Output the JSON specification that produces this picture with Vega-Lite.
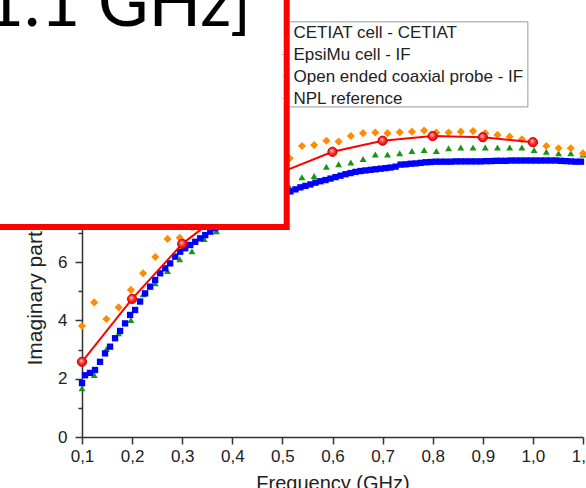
{
  "$schema": "https://vega.github.io/schema/vega-lite/v6.json",
  "autosize": {"type": "none"},
  "padding": {"left": 82, "top": 0, "right": 3, "bottom": 51},
  "width": 501,
  "height": 437,
  "background": "white",
  "config": {"view": {"stroke": null}, "font": "Liberation Sans"},
  "datasets": {
    "cetiat": [
      {"series": "CETIAT cell - CETIAT", "f": 0.1, "v": 3.81},
      {"series": "CETIAT cell - CETIAT", "f": 0.1244, "v": 4.62},
      {"series": "CETIAT cell - CETIAT", "f": 0.1488, "v": 4.05},
      {"series": "CETIAT cell - CETIAT", "f": 0.1732, "v": 4.45},
      {"series": "CETIAT cell - CETIAT", "f": 0.1976, "v": 5.05},
      {"series": "CETIAT cell - CETIAT", "f": 0.222, "v": 5.62},
      {"series": "CETIAT cell - CETIAT", "f": 0.2463, "v": 6.18},
      {"series": "CETIAT cell - CETIAT", "f": 0.2707, "v": 6.8},
      {"series": "CETIAT cell - CETIAT", "f": 0.2951, "v": 6.84},
      {"series": "CETIAT cell - CETIAT", "f": 0.3195, "v": 7.2},
      {"series": "CETIAT cell - CETIAT", "f": 0.3439, "v": 7.6},
      {"series": "CETIAT cell - CETIAT", "f": 0.3683, "v": 8.0},
      {"series": "CETIAT cell - CETIAT", "f": 0.3927, "v": 8.3},
      {"series": "CETIAT cell - CETIAT", "f": 0.4171, "v": 8.6},
      {"series": "CETIAT cell - CETIAT", "f": 0.4415, "v": 8.9},
      {"series": "CETIAT cell - CETIAT", "f": 0.4659, "v": 9.15},
      {"series": "CETIAT cell - CETIAT", "f": 0.4902, "v": 9.4},
      {"series": "CETIAT cell - CETIAT", "f": 0.5146, "v": 9.57},
      {"series": "CETIAT cell - CETIAT", "f": 0.539, "v": 9.99},
      {"series": "CETIAT cell - CETIAT", "f": 0.5634, "v": 10.02},
      {"series": "CETIAT cell - CETIAT", "f": 0.5878, "v": 10.17},
      {"series": "CETIAT cell - CETIAT", "f": 0.6122, "v": 10.14},
      {"series": "CETIAT cell - CETIAT", "f": 0.6366, "v": 10.33},
      {"series": "CETIAT cell - CETIAT", "f": 0.661, "v": 10.43},
      {"series": "CETIAT cell - CETIAT", "f": 0.6854, "v": 10.45},
      {"series": "CETIAT cell - CETIAT", "f": 0.7098, "v": 10.43},
      {"series": "CETIAT cell - CETIAT", "f": 0.7341, "v": 10.46},
      {"series": "CETIAT cell - CETIAT", "f": 0.7585, "v": 10.48},
      {"series": "CETIAT cell - CETIAT", "f": 0.7829, "v": 10.52},
      {"series": "CETIAT cell - CETIAT", "f": 0.8073, "v": 10.45},
      {"series": "CETIAT cell - CETIAT", "f": 0.8317, "v": 10.45},
      {"series": "CETIAT cell - CETIAT", "f": 0.8561, "v": 10.48},
      {"series": "CETIAT cell - CETIAT", "f": 0.8805, "v": 10.5},
      {"series": "CETIAT cell - CETIAT", "f": 0.9049, "v": 10.43},
      {"series": "CETIAT cell - CETIAT", "f": 0.9293, "v": 10.37},
      {"series": "CETIAT cell - CETIAT", "f": 0.9537, "v": 10.31},
      {"series": "CETIAT cell - CETIAT", "f": 0.978, "v": 10.22},
      {"series": "CETIAT cell - CETIAT", "f": 1.0024, "v": 10.08},
      {"series": "CETIAT cell - CETIAT", "f": 1.0268, "v": 9.99},
      {"series": "CETIAT cell - CETIAT", "f": 1.0512, "v": 9.91},
      {"series": "CETIAT cell - CETIAT", "f": 1.0756, "v": 9.91},
      {"series": "CETIAT cell - CETIAT", "f": 1.1, "v": 9.74}
    ],
    "probe": [
      {"series": "Open ended coaxial probe - IF", "f": 0.1, "v": 1.67},
      {"series": "Open ended coaxial probe - IF", "f": 0.1244, "v": 2.13},
      {"series": "Open ended coaxial probe - IF", "f": 0.1488, "v": 3.02},
      {"series": "Open ended coaxial probe - IF", "f": 0.1732, "v": 3.56},
      {"series": "Open ended coaxial probe - IF", "f": 0.1976, "v": 4.02},
      {"series": "Open ended coaxial probe - IF", "f": 0.222, "v": 4.9},
      {"series": "Open ended coaxial probe - IF", "f": 0.2463, "v": 5.28},
      {"series": "Open ended coaxial probe - IF", "f": 0.2707, "v": 5.7},
      {"series": "Open ended coaxial probe - IF", "f": 0.2951, "v": 6.1},
      {"series": "Open ended coaxial probe - IF", "f": 0.3195, "v": 6.38},
      {"series": "Open ended coaxial probe - IF", "f": 0.3439, "v": 6.8},
      {"series": "Open ended coaxial probe - IF", "f": 0.3683, "v": 7.06},
      {"series": "Open ended coaxial probe - IF", "f": 0.3927, "v": 7.35},
      {"series": "Open ended coaxial probe - IF", "f": 0.4171, "v": 7.6},
      {"series": "Open ended coaxial probe - IF", "f": 0.4415, "v": 7.85},
      {"series": "Open ended coaxial probe - IF", "f": 0.4659, "v": 8.1},
      {"series": "Open ended coaxial probe - IF", "f": 0.4902, "v": 8.35},
      {"series": "Open ended coaxial probe - IF", "f": 0.5146, "v": 8.56},
      {"series": "Open ended coaxial probe - IF", "f": 0.539, "v": 8.92},
      {"series": "Open ended coaxial probe - IF", "f": 0.5634, "v": 8.96},
      {"series": "Open ended coaxial probe - IF", "f": 0.5878, "v": 9.28},
      {"series": "Open ended coaxial probe - IF", "f": 0.6122, "v": 9.36},
      {"series": "Open ended coaxial probe - IF", "f": 0.6366, "v": 9.42},
      {"series": "Open ended coaxial probe - IF", "f": 0.661, "v": 9.54},
      {"series": "Open ended coaxial probe - IF", "f": 0.6854, "v": 9.7},
      {"series": "Open ended coaxial probe - IF", "f": 0.7098, "v": 9.7},
      {"series": "Open ended coaxial probe - IF", "f": 0.7341, "v": 9.74},
      {"series": "Open ended coaxial probe - IF", "f": 0.7585, "v": 9.82},
      {"series": "Open ended coaxial probe - IF", "f": 0.7829, "v": 9.85},
      {"series": "Open ended coaxial probe - IF", "f": 0.8073, "v": 9.82},
      {"series": "Open ended coaxial probe - IF", "f": 0.8317, "v": 9.91},
      {"series": "Open ended coaxial probe - IF", "f": 0.8561, "v": 9.94},
      {"series": "Open ended coaxial probe - IF", "f": 0.8805, "v": 9.94},
      {"series": "Open ended coaxial probe - IF", "f": 0.9049, "v": 9.94},
      {"series": "Open ended coaxial probe - IF", "f": 0.9293, "v": 9.94},
      {"series": "Open ended coaxial probe - IF", "f": 0.9537, "v": 9.94},
      {"series": "Open ended coaxial probe - IF", "f": 0.978, "v": 9.94},
      {"series": "Open ended coaxial probe - IF", "f": 1.0024, "v": 9.85},
      {"series": "Open ended coaxial probe - IF", "f": 1.0268, "v": 9.79},
      {"series": "Open ended coaxial probe - IF", "f": 1.0512, "v": 9.74},
      {"series": "Open ended coaxial probe - IF", "f": 1.0756, "v": 9.74},
      {"series": "Open ended coaxial probe - IF", "f": 1.1, "v": 9.7}
    ],
    "epsimu": [
      {"series": "EpsiMu cell - IF", "f": 0.1, "v": 1.85},
      {"series": "EpsiMu cell - IF", "f": 0.106, "v": 2.12},
      {"series": "EpsiMu cell - IF", "f": 0.116, "v": 2.2},
      {"series": "EpsiMu cell - IF", "f": 0.126, "v": 2.3},
      {"series": "EpsiMu cell - IF", "f": 0.136, "v": 2.58},
      {"series": "EpsiMu cell - IF", "f": 0.146, "v": 2.87},
      {"series": "EpsiMu cell - IF", "f": 0.156, "v": 3.1},
      {"series": "EpsiMu cell - IF", "f": 0.166, "v": 3.39},
      {"series": "EpsiMu cell - IF", "f": 0.176, "v": 3.64},
      {"series": "EpsiMu cell - IF", "f": 0.186, "v": 3.9},
      {"series": "EpsiMu cell - IF", "f": 0.196, "v": 4.19},
      {"series": "EpsiMu cell - IF", "f": 0.206, "v": 4.36},
      {"series": "EpsiMu cell - IF", "f": 0.216, "v": 4.65},
      {"series": "EpsiMu cell - IF", "f": 0.226, "v": 4.93},
      {"series": "EpsiMu cell - IF", "f": 0.236, "v": 5.16},
      {"series": "EpsiMu cell - IF", "f": 0.246, "v": 5.39},
      {"series": "EpsiMu cell - IF", "f": 0.256, "v": 5.62},
      {"series": "EpsiMu cell - IF", "f": 0.266, "v": 5.79},
      {"series": "EpsiMu cell - IF", "f": 0.276, "v": 5.96},
      {"series": "EpsiMu cell - IF", "f": 0.286, "v": 6.19},
      {"series": "EpsiMu cell - IF", "f": 0.296, "v": 6.36},
      {"series": "EpsiMu cell - IF", "f": 0.306, "v": 6.48},
      {"series": "EpsiMu cell - IF", "f": 0.316, "v": 6.59},
      {"series": "EpsiMu cell - IF", "f": 0.326, "v": 6.7},
      {"series": "EpsiMu cell - IF", "f": 0.336, "v": 6.82},
      {"series": "EpsiMu cell - IF", "f": 0.346, "v": 6.93},
      {"series": "EpsiMu cell - IF", "f": 0.356, "v": 7.05},
      {"series": "EpsiMu cell - IF", "f": 0.366, "v": 7.17},
      {"series": "EpsiMu cell - IF", "f": 0.376, "v": 7.28},
      {"series": "EpsiMu cell - IF", "f": 0.386, "v": 7.4},
      {"series": "EpsiMu cell - IF", "f": 0.396, "v": 7.5},
      {"series": "EpsiMu cell - IF", "f": 0.406, "v": 7.6},
      {"series": "EpsiMu cell - IF", "f": 0.416, "v": 7.7},
      {"series": "EpsiMu cell - IF", "f": 0.426, "v": 7.79},
      {"series": "EpsiMu cell - IF", "f": 0.436, "v": 7.87},
      {"series": "EpsiMu cell - IF", "f": 0.446, "v": 7.95},
      {"series": "EpsiMu cell - IF", "f": 0.456, "v": 8.03},
      {"series": "EpsiMu cell - IF", "f": 0.466, "v": 8.1},
      {"series": "EpsiMu cell - IF", "f": 0.476, "v": 8.17},
      {"series": "EpsiMu cell - IF", "f": 0.486, "v": 8.24},
      {"series": "EpsiMu cell - IF", "f": 0.496, "v": 8.3},
      {"series": "EpsiMu cell - IF", "f": 0.506, "v": 8.37},
      {"series": "EpsiMu cell - IF", "f": 0.516, "v": 8.43},
      {"series": "EpsiMu cell - IF", "f": 0.526, "v": 8.5},
      {"series": "EpsiMu cell - IF", "f": 0.536, "v": 8.57},
      {"series": "EpsiMu cell - IF", "f": 0.546, "v": 8.62},
      {"series": "EpsiMu cell - IF", "f": 0.556, "v": 8.67},
      {"series": "EpsiMu cell - IF", "f": 0.566, "v": 8.73},
      {"series": "EpsiMu cell - IF", "f": 0.576, "v": 8.78},
      {"series": "EpsiMu cell - IF", "f": 0.586, "v": 8.82},
      {"series": "EpsiMu cell - IF", "f": 0.596, "v": 8.87},
      {"series": "EpsiMu cell - IF", "f": 0.606, "v": 8.92},
      {"series": "EpsiMu cell - IF", "f": 0.616, "v": 8.97},
      {"series": "EpsiMu cell - IF", "f": 0.626, "v": 9.02},
      {"series": "EpsiMu cell - IF", "f": 0.636, "v": 9.06},
      {"series": "EpsiMu cell - IF", "f": 0.646, "v": 9.1},
      {"series": "EpsiMu cell - IF", "f": 0.656, "v": 9.13},
      {"series": "EpsiMu cell - IF", "f": 0.666, "v": 9.15},
      {"series": "EpsiMu cell - IF", "f": 0.676, "v": 9.17},
      {"series": "EpsiMu cell - IF", "f": 0.686, "v": 9.19},
      {"series": "EpsiMu cell - IF", "f": 0.696, "v": 9.21},
      {"series": "EpsiMu cell - IF", "f": 0.706, "v": 9.23},
      {"series": "EpsiMu cell - IF", "f": 0.716, "v": 9.25},
      {"series": "EpsiMu cell - IF", "f": 0.726, "v": 9.28},
      {"series": "EpsiMu cell - IF", "f": 0.736, "v": 9.35},
      {"series": "EpsiMu cell - IF", "f": 0.746, "v": 9.36},
      {"series": "EpsiMu cell - IF", "f": 0.756, "v": 9.38},
      {"series": "EpsiMu cell - IF", "f": 0.766, "v": 9.39},
      {"series": "EpsiMu cell - IF", "f": 0.776, "v": 9.41},
      {"series": "EpsiMu cell - IF", "f": 0.786, "v": 9.43},
      {"series": "EpsiMu cell - IF", "f": 0.796, "v": 9.44},
      {"series": "EpsiMu cell - IF", "f": 0.806, "v": 9.45},
      {"series": "EpsiMu cell - IF", "f": 0.816, "v": 9.45},
      {"series": "EpsiMu cell - IF", "f": 0.826, "v": 9.45},
      {"series": "EpsiMu cell - IF", "f": 0.836, "v": 9.45},
      {"series": "EpsiMu cell - IF", "f": 0.846, "v": 9.46},
      {"series": "EpsiMu cell - IF", "f": 0.856, "v": 9.46},
      {"series": "EpsiMu cell - IF", "f": 0.866, "v": 9.46},
      {"series": "EpsiMu cell - IF", "f": 0.876, "v": 9.46},
      {"series": "EpsiMu cell - IF", "f": 0.886, "v": 9.46},
      {"series": "EpsiMu cell - IF", "f": 0.896, "v": 9.46},
      {"series": "EpsiMu cell - IF", "f": 0.906, "v": 9.47},
      {"series": "EpsiMu cell - IF", "f": 0.916, "v": 9.47},
      {"series": "EpsiMu cell - IF", "f": 0.926, "v": 9.48},
      {"series": "EpsiMu cell - IF", "f": 0.936, "v": 9.48},
      {"series": "EpsiMu cell - IF", "f": 0.946, "v": 9.48},
      {"series": "EpsiMu cell - IF", "f": 0.956, "v": 9.49},
      {"series": "EpsiMu cell - IF", "f": 0.966, "v": 9.49},
      {"series": "EpsiMu cell - IF", "f": 0.976, "v": 9.49},
      {"series": "EpsiMu cell - IF", "f": 0.986, "v": 9.49},
      {"series": "EpsiMu cell - IF", "f": 0.996, "v": 9.49},
      {"series": "EpsiMu cell - IF", "f": 1.006, "v": 9.49},
      {"series": "EpsiMu cell - IF", "f": 1.016, "v": 9.49},
      {"series": "EpsiMu cell - IF", "f": 1.026, "v": 9.49},
      {"series": "EpsiMu cell - IF", "f": 1.036, "v": 9.49},
      {"series": "EpsiMu cell - IF", "f": 1.046, "v": 9.49},
      {"series": "EpsiMu cell - IF", "f": 1.056, "v": 9.48},
      {"series": "EpsiMu cell - IF", "f": 1.066, "v": 9.47},
      {"series": "EpsiMu cell - IF", "f": 1.076, "v": 9.46},
      {"series": "EpsiMu cell - IF", "f": 1.086, "v": 9.45},
      {"series": "EpsiMu cell - IF", "f": 1.096, "v": 9.45}
    ],
    "npl": [
      {"series": "NPL reference", "f": 0.1, "v": 2.58},
      {"series": "NPL reference", "f": 0.2, "v": 4.74},
      {"series": "NPL reference", "f": 0.3, "v": 6.63},
      {"series": "NPL reference", "f": 0.4, "v": 7.95},
      {"series": "NPL reference", "f": 0.5, "v": 9.1},
      {"series": "NPL reference", "f": 0.6, "v": 9.79},
      {"series": "NPL reference", "f": 0.7, "v": 10.17},
      {"series": "NPL reference", "f": 0.8, "v": 10.33},
      {"series": "NPL reference", "f": 0.9, "v": 10.29},
      {"series": "NPL reference", "f": 1.0, "v": 10.12}
    ],
    "note": [
      {"label": "[0.1 – 1.1 GHz]"}
    ]
  },
  "layer": [
    {
      "data": {"name": "probe"},
      "mark": {"type": "point", "shape": "triangle-up", "filled": true, "size": 48, "opacity": 1},
      "encoding": {
        "x": {
          "field": "f", "type": "quantitative",
          "scale": {"domain": [0.1, 1.1], "nice": false, "zero": false},
          "axis": {
            "zindex": 0,
            "values": [0.1, 0.15, 0.2, 0.25, 0.3, 0.35, 0.4, 0.45, 0.5, 0.55, 0.6, 0.65, 0.7, 0.75, 0.8, 0.85, 0.9, 0.95, 1.0, 1.05, 1.1],
            "labelExpr": "abs(datum.value*10 - round(datum.value*10)) < 0.001 ? replace(format(datum.value, '.1f'), '.', ',') : ''",
            "tickSize": {"condition": {"test": "abs(datum.value*10 - round(datum.value*10)) < 0.001", "value": 7}, "value": 4},
            "grid": false,
            "labelOverlap": false, "labelFlush": false, "labelBound": false,
            "labelFont": "Liberation Sans", "labelFontSize": 17, "labelColor": "#222", "labelPadding": 4,
            "domainColor": "#333", "domainWidth": 1.5, "tickColor": "#333", "tickWidth": 1.5,
            "title": "Frequency (GHz)", "titleFont": "Liberation Sans", "titleFontSize": 20, "titleFontWeight": "normal", "titleColor": "#222", "titlePadding": 9
          }
        },
        "y": {
          "field": "v", "type": "quantitative",
          "scale": {"domain": [0, 15], "nice": false, "zero": true},
          "axis": {
            "zindex": 0,
            "values": [0, 1, 2, 3, 4, 5, 6, 7],
            "labelExpr": "datum.value % 2 == 0 ? datum.label : ''",
            "tickSize": {"condition": {"test": "datum.value % 2 == 0", "value": 7}, "value": 4},
            "grid": false,
            "labelOverlap": false, "labelFlush": false, "labelBound": false,
            "labelFont": "Liberation Sans", "labelFontSize": 17, "labelColor": "#222", "labelPadding": 8,
            "domainColor": "#333", "domainWidth": 1.5, "tickColor": "#333", "tickWidth": 1.5,
            "title": "Imaginary part of permittivity", "titleFont": "Liberation Sans", "titleFontSize": 21, "titleFontWeight": "normal", "titleColor": "#222",
            "titleAngle": 270, "titleAlign": "left", "titleBaseline": "alphabetic", "titleX": -41, "titleY": 365
          }
        },
        "color": {
          "field": "series", "type": "nominal",
          "scale": {
            "domain": ["CETIAT cell - CETIAT", "EpsiMu cell - IF", "Open ended coaxial probe - IF", "NPL reference"],
            "range": ["#ff8c00", "#0000ff", "#169616", "#ff0000"]
          },
          "legend": {
            "orient": "none", "legendX": 190.5, "legendY": 22, "title": null,
            "symbolOpacity": 0, "symbolSize": 1, "symbolStrokeWidth": 0,
            "labelOffset": 2, "padding": 2, "rowPadding": 4,
            "labelFont": "Liberation Sans", "labelFontSize": 17, "labelColor": "#222", "labelLimit": 400,
            "strokeColor": null, "fillColor": null
          }
        }
      }
    },
    {
      "data": {"name": "epsimu"},
      "mark": {"type": "point", "shape": "square", "filled": true, "size": 40, "opacity": 1},
      "encoding": {
        "x": {"field": "f", "type": "quantitative"},
        "y": {"field": "v", "type": "quantitative"},
        "color": {"field": "series", "type": "nominal"}
      }
    },
    {
      "data": {"name": "cetiat"},
      "mark": {"type": "point", "shape": "diamond", "filled": true, "size": 66, "opacity": 1},
      "encoding": {
        "x": {"field": "f", "type": "quantitative"},
        "y": {"field": "v", "type": "quantitative"},
        "color": {"field": "series", "type": "nominal"}
      }
    },
    {
      "data": {"name": "npl"},
      "mark": {"type": "line", "strokeWidth": 2},
      "encoding": {
        "x": {"field": "f", "type": "quantitative"},
        "y": {"field": "v", "type": "quantitative"},
        "color": {"field": "series", "type": "nominal"}
      }
    },
    {
      "data": {"name": "npl"},
      "mark": {"type": "point", "shape": "circle", "filled": true, "size": 85, "opacity": 1, "stroke": "#cc0000", "strokeWidth": 1,
        "fill": {"gradient": "radial", "x1": 0.4, "y1": 0.35, "r1": 0, "x2": 0.5, "y2": 0.5, "r2": 0.55,
          "stops": [{"offset": 0, "color": "#ffd0d0"}, {"offset": 0.5, "color": "#ff3030"}, {"offset": 1, "color": "#e00000"}]}},
      "encoding": {
        "x": {"field": "f", "type": "quantitative"},
        "y": {"field": "v", "type": "quantitative"}
      }
    },
    {
      "data": {"name": "note"},
      "mark": {"type": "rect", "fill": "white", "stroke": "#999999", "strokeWidth": 1},
      "encoding": {
        "x": {"datum": 0.5, "type": "quantitative"}, "x2": {"datum": 0.99},
        "y": {"datum": 14.25, "type": "quantitative"}, "y2": {"datum": 11.33}
      }
    },
    {
      "data": {"name": "note"},
      "mark": {"type": "rect", "fill": "white", "stroke": "#ff0000", "strokeWidth": 6},
      "encoding": {
        "x": {"datum": -1, "type": "quantitative"}, "x2": {"datum": 0.5086},
        "y": {"datum": 7.21, "type": "quantitative"}, "y2": {"datum": 30}
      }
    },
    {
      "data": {"name": "note"},
      "mark": {"type": "text", "align": "right", "baseline": "alphabetic", "font": "Lato", "fontSize": 69, "fill": "#000"},
      "encoding": {
        "x": {"datum": 0.4375, "type": "quantitative"},
        "y": {"datum": 14.1, "type": "quantitative"},
        "text": {"field": "label"}
      }
    }
  ]
}
